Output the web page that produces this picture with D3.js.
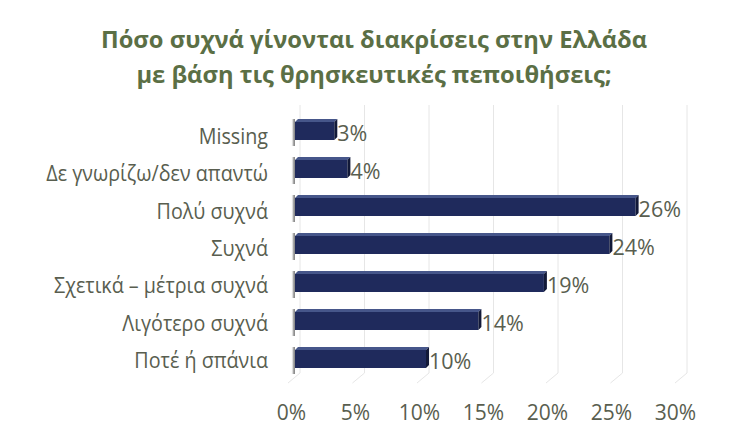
<!DOCTYPE html>
<html>
<head>
<meta charset="utf-8">
<script src="https://cdn.jsdelivr.net/npm/d3@7"></script>
<style>
html,body{margin:0;padding:0;background:#fff;}
svg{display:block;}
</style>
</head>
<body>
<div id="chart"></div>
<script>
const titleLines = ["Πόσο συχνά γίνονται διακρίσεις στην Ελλάδα", "με βάση τις θρησκευτικές πεποιθήσεις;"];
const categories = ["Missing", "Δε γνωρίζω/δεν απαντώ", "Πολύ συχνά", "Συχνά", "Σχετικά – μέτρια συχνά", "Λιγότερο συχνά", "Ποτέ ή σπάνια"];
const values = [3, 4, 26, 24, 19, 14, 10];
const tickValues = [0, 5, 10, 15, 20, 25, 30];
const tickLabels = ["0%", "5%", "10%", "15%", "20%", "25%", "30%"];

const W = 747, H = 443;
const FONT = "'Open Sans', 'Noto Sans', sans-serif";
const TEXT = "#595e4f";
const svg = d3.select("#chart").append("svg").attr("width", W).attr("height", H);

// narrow (Calibri-like) horizontal compression of a text selection
function condense(sel, factor) {
  sel.each(function () {
    const w = this.getComputedTextLength();
    d3.select(this).attr("textLength", w * factor).attr("lengthAdjust", "spacingAndGlyphs");
  });
}

const defs = svg.append("defs");
const sh = defs.append("linearGradient").attr("id", "shadow").attr("x1", "0").attr("x2", "1");
sh.append("stop").attr("offset", "0").attr("stop-color", "#ffffff").attr("stop-opacity", 0);
sh.append("stop").attr("offset", "0.6").attr("stop-color", "#9a9a9a");
sh.append("stop").attr("offset", "1").attr("stop-color", "#6a6a6a");

// scales
const xBack = d3.scaleLinear().domain([0, 30]).range([300, 687]);
const xBar = d3.scaleLinear().domain([0, 30]).range([295, 688]);
const xTick = d3.scaleLinear().domain([0, 30]).range([291, 675]);
const y = d3.scalePoint().domain(categories).range([131, 359]);
const yLabel = d3.scalePoint().domain(categories).range([144, 368]);
const depthX = -12, depthY = 10;
const gridTop = 105, gridBottom = 373;

// gridlines (back wall + floor)
svg.append("g").selectAll("path").data(tickValues).join("path")
  .attr("d", d => `M${xBack(d)},${gridTop}L${xBack(d)},${gridBottom}L${xBack(d) + depthX},${gridBottom + depthY}`)
  .attr("fill", "none").attr("stroke", "#e6e6e6").attr("stroke-width", 1);

// bars
const bh = 18, topD = 3;
const bars = svg.append("g").selectAll("g").data(categories).join("g");
bars.append("rect")
  .attr("x", xBar(0) - 4).attr("y", d => y(d) - bh / 2 - topD).attr("width", 4).attr("height", bh + topD + 6)
  .attr("fill", "url(#shadow)").attr("opacity", 0.85);
bars.append("path")
  .attr("d", (d, i) => {
    const x0 = xBar(0), x1 = xBar(values[i]), c = y(d);
    return `M${x0},${c - bh / 2}L${x1},${c - bh / 2}L${x1 + 3},${c - bh / 2 - topD}L${x0 + 3},${c - bh / 2 - topD}Z`;
  })
  .attr("fill", "#46568a");
bars.append("rect")
  .attr("x", xBar(0)).attr("y", d => y(d) - bh / 2)
  .attr("width", (d, i) => xBar(values[i]) - xBar(0)).attr("height", bh)
  .attr("fill", "#1f2a5c");
bars.append("path")
  .attr("d", (d, i) => {
    const x1 = xBar(values[i]), c = y(d);
    return `M${x1},${c - bh / 2}L${x1 + 3},${c - bh / 2 - topD}L${x1 + 3},${c + bh / 2 - topD}L${x1},${c + bh / 2}Z`;
  })
  .attr("fill", "#121938");

// value labels
bars.append("text")
  .attr("x", (d, i) => xBar(values[i]) + 3)
  .attr("y", d => y(d) + bh / 2 + 1)
  .attr("font-family", FONT).attr("font-size", 21.5).attr("fill", TEXT)
  .text((d, i) => values[i] + "%");

// category labels
const catTexts = svg.append("g").selectAll("text").data(categories).join("text")
  .attr("x", 268).attr("y", d => yLabel(d))
  .attr("text-anchor", "end")
  .attr("font-family", FONT).attr("font-size", 21.5).attr("fill", TEXT)
  .text(d => d);
const catRef = catTexts.filter(d => d === "Σχετικά – μέτρια συχνά").node().getComputedTextLength();
condense(catTexts, 214 / catRef);

// x axis
const axis = svg.append("g").attr("transform", "translate(0,405)")
  .call(d3.axisBottom(xTick).tickValues(tickValues).tickSize(0).tickPadding(0)
    .tickFormat((d, i) => tickLabels[i]));
axis.select(".domain").remove();
axis.selectAll("text").attr("font-family", FONT).attr("font-size", 21).attr("fill", TEXT)
  .attr("dy", "0.71em");

// title
const titleTexts = svg.append("g").selectAll("text").data(titleLines).join("text")
  .attr("x", 374).attr("y", (d, i) => 48 + i * 35)
  .attr("text-anchor", "middle")
  .attr("font-family", FONT).attr("font-weight", "bold").attr("font-size", 23)
  .attr("fill", "#5b6f45")
  .text(d => d);
const titleRef = titleTexts.filter((d, i) => i === 0).node().getComputedTextLength();
condense(titleTexts, 546 / titleRef);
</script>
</body>
</html>
